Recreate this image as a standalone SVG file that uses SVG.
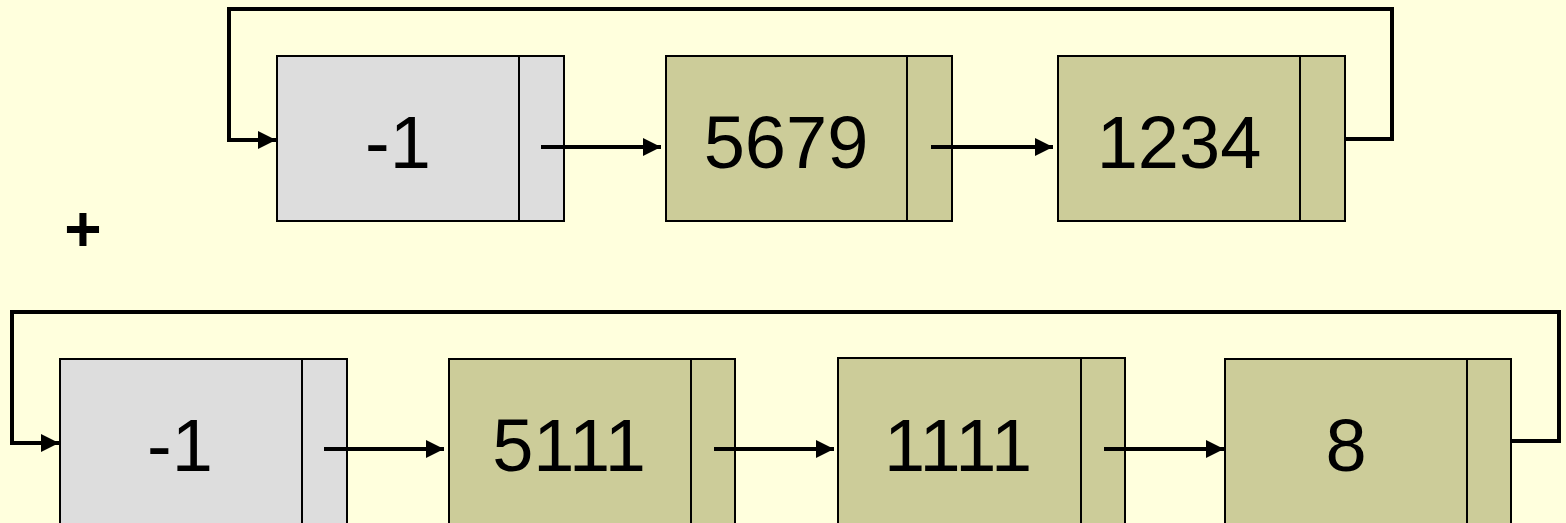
<svg xmlns="http://www.w3.org/2000/svg" width="1566" height="523" viewBox="0 0 1566 523">
  <style>
    .head { fill: #DDDDDD; stroke: #000; stroke-width: 2; }
    .data { fill: #CCCC99; stroke: #000; stroke-width: 2; }
    .sep { stroke: #000; stroke-width: 2; }
    .val { font-family: "Liberation Sans", Arial, sans-serif; font-size: 74px; text-anchor: middle; fill: #000; }
    .link { fill: none; stroke: #000; stroke-width: 4; }
  </style>
  <defs>
    <marker id="arrow" markerWidth="4.5" markerHeight="4.5" refX="4.5" refY="2.25" orient="auto" markerUnits="strokeWidth">
      <path d="M0,0 L4.5,2.25 L0,4.5 Z" fill="#000"/>
    </marker>
  </defs>
  <rect width="1566" height="523" fill="#FFFFDD"/>

  <!-- first list -->
  <g id="a-head">
    <rect class="head" x="277" y="56" width="287" height="165"/>
    <line class="sep" x1="519" y1="56" x2="519" y2="221"/>
    <text class="val" x="398" y="168">-1</text>
  </g>
  <g id="a-5679">
    <rect class="data" x="666" y="56" width="286" height="165"/>
    <line class="sep" x1="907" y1="56" x2="907" y2="221"/>
    <text class="val" x="786" y="168">5679</text>
  </g>
  <g id="a-1234">
    <rect class="data" x="1058" y="56" width="287" height="165"/>
    <line class="sep" x1="1300" y1="56" x2="1300" y2="221"/>
    <text class="val" x="1179" y="168">1234</text>
  </g>

  <text id="plus" x="83" y="251" font-family="Liberation Sans, Arial, sans-serif" font-size="64" font-weight="bold" text-anchor="middle">+</text>

  <!-- second list -->
  <g id="b-head">
    <rect class="head" x="60" y="359" width="287" height="180"/>
    <line class="sep" x1="302" y1="359" x2="302" y2="539"/>
    <text class="val" x="180" y="471">-1</text>
  </g>
  <g id="b-5111">
    <rect class="data" x="449" y="359" width="286" height="180"/>
    <line class="sep" x1="691" y1="359" x2="691" y2="539"/>
    <text class="val" x="569" y="471">5111</text>
  </g>
  <g id="b-1111">
    <rect class="data" x="838" y="358" width="287" height="180"/>
    <line class="sep" x1="1081" y1="358" x2="1081" y2="538"/>
    <text class="val" x="958" y="471">1111</text>
  </g>
  <g id="b-8">
    <rect class="data" x="1225" y="359" width="286" height="180"/>
    <line class="sep" x1="1467" y1="359" x2="1467" y2="539"/>
    <text class="val" x="1346" y="471">8</text>
  </g>

  <g id="connectors">
    <line class="link" x1="541" y1="147" x2="661" y2="147" marker-end="url(#arrow)"/>
    <line class="link" x1="931" y1="147" x2="1053" y2="147" marker-end="url(#arrow)"/>
    <polyline class="link" points="1345,139 1392,139 1392,9 229,9 229,140 276,140" marker-end="url(#arrow)"/>

    <line class="link" x1="324" y1="449" x2="444" y2="449" marker-end="url(#arrow)"/>
    <line class="link" x1="714" y1="449" x2="834" y2="449" marker-end="url(#arrow)"/>
    <line class="link" x1="1104" y1="449" x2="1224" y2="449" marker-end="url(#arrow)"/>
    <polyline class="link" points="1511,441 1559,441 1559,312 12,312 12,443 59,443" marker-end="url(#arrow)"/>
  </g>
</svg>
